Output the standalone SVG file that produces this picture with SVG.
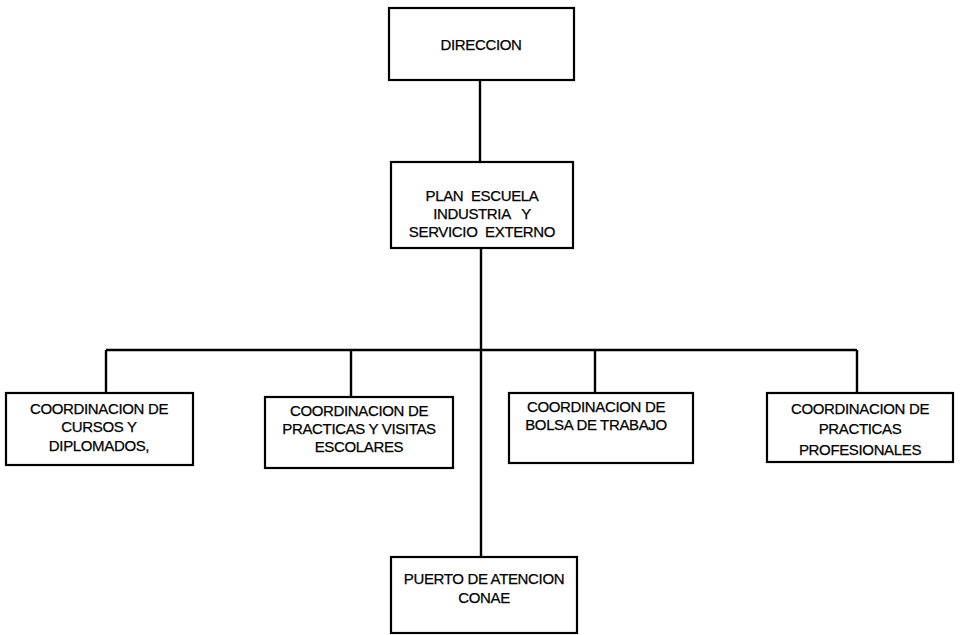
<svg xmlns="http://www.w3.org/2000/svg" width="960" height="635" viewBox="0 0 960 635">
<style>
.box{fill:#fff;stroke:#000;stroke-width:2.2}
.ln{fill:none;stroke:#000;stroke-width:2.4}
text{font-family:"Liberation Sans",Arial,sans-serif;font-size:15px;letter-spacing:-0.35px;fill:#000;stroke:#000;stroke-width:0.25;text-anchor:middle;white-space:pre}
</style>
<rect width="960" height="635" fill="#fff"/>
<g id="connectors">
<line class="ln" x1="480" y1="80" x2="480" y2="162"/>
<line class="ln" x1="481" y1="248" x2="481" y2="557"/>
<line class="ln" x1="106" y1="350" x2="857" y2="350"/>
<line class="ln" x1="106" y1="350" x2="106" y2="393"/>
<line class="ln" x1="351" y1="350" x2="351" y2="397"/>
<line class="ln" x1="595" y1="350" x2="595" y2="393"/>
<line class="ln" x1="857" y1="350" x2="857" y2="393"/>
</g>
<g id="direccion">
<rect class="box" x="389" y="8" width="185" height="72"/>
<text x="481" y="50">DIRECCION</text>
</g>
<g id="plan">
<rect class="box" x="391" y="162" width="182" height="86"/>
<text x="482" y="201">PLAN  ESCUELA</text>
<text x="482" y="219">INDUSTRIA   Y</text>
<text x="482" y="237">SERVICIO  EXTERNO</text>
</g>
<g id="cursos">
<rect class="box" x="6" y="393" width="187" height="72"/>
<text x="99" y="414">COORDINACION DE</text>
<text x="99" y="432">CURSOS Y</text>
<text x="99" y="451">DIPLOMADOS,</text>
</g>
<g id="practicas-visitas">
<rect class="box" x="265" y="397" width="188" height="71"/>
<text x="359" y="416">COORDINACION DE</text>
<text x="359" y="434">PRACTICAS Y VISITAS</text>
<text x="359" y="452">ESCOLARES</text>
</g>
<g id="bolsa">
<rect class="box" x="509" y="393" width="184" height="70"/>
<text x="596" y="412">COORDINACION DE</text>
<text x="596" y="430">BOLSA DE TRABAJO</text>
</g>
<g id="practicas-profesionales">
<rect class="box" x="767" y="393" width="186" height="69"/>
<text x="860" y="414">COORDINACION DE</text>
<text x="860" y="434">PRACTICAS</text>
<text x="860" y="455">PROFESIONALES</text>
</g>
<g id="puerto">
<rect class="box" x="391" y="557" width="186" height="76"/>
<text x="484" y="584">PUERTO DE ATENCION</text>
<text x="484" y="603">CONAE</text>
</g>
</svg>
